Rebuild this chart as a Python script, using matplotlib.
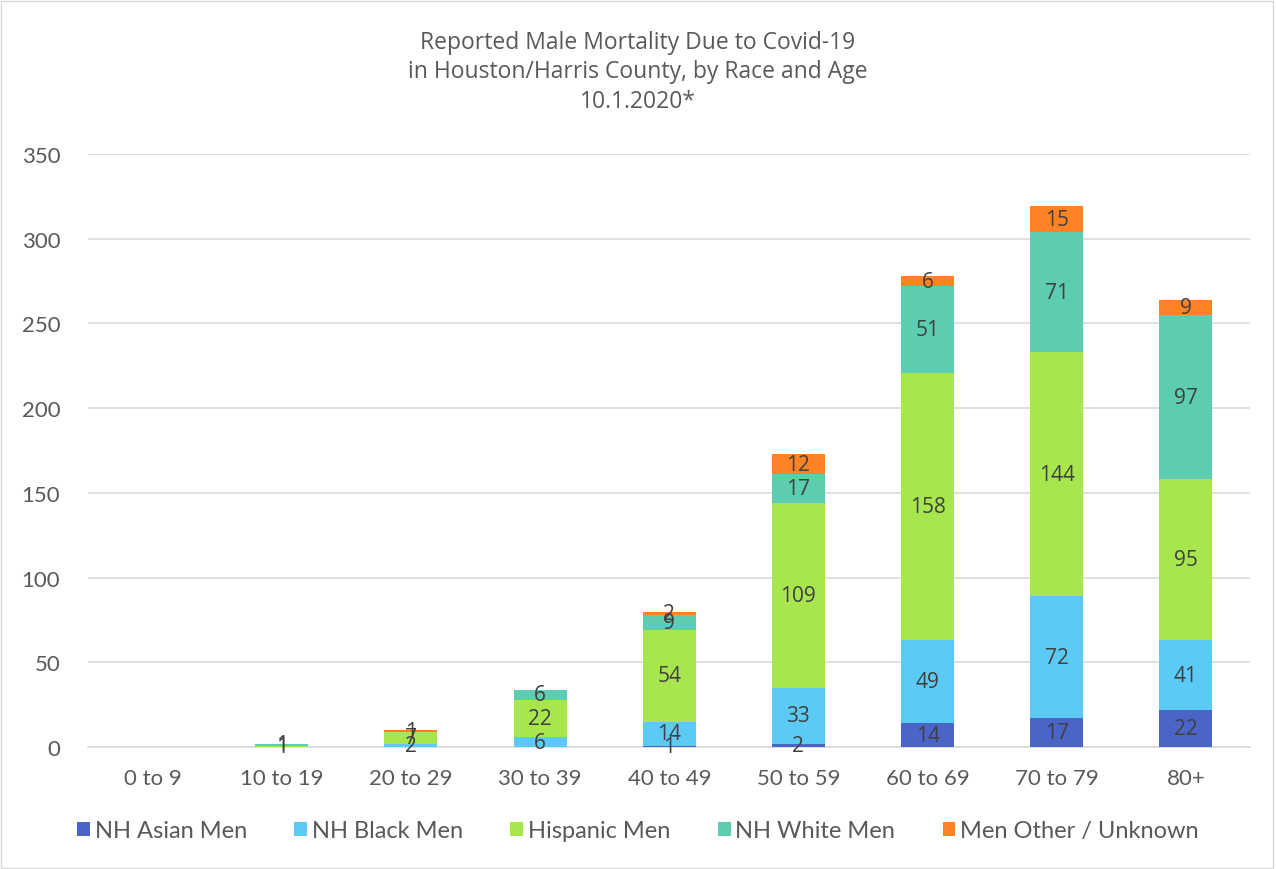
import matplotlib
matplotlib.use("Agg")
import matplotlib.pyplot as plt
import numpy as np

categories = ["0 to 9", "10 to 19", "20 to 29", "30 to 39", "40 to 49",
              "50 to 59", "60 to 69", "70 to 79", "80+"]
series_names = ["NH Asian Men", "NH Black Men", "Hispanic Men", "NH White Men", "Men Other / Unknown"]
asian = [0, 0, 0, 0, 1, 2, 14, 17, 22]
black = [0, 0, 2, 6, 14, 33, 49, 72, 41]
hispanic = [0, 1, 7, 22, 54, 109, 158, 144, 95]
white = [0, 1, 0, 6, 9, 17, 51, 71, 97]
other = [0, 0, 1, 0, 2, 12, 6, 15, 9]
colors = ["#4A64C8", "#5BCAF5", "#A8E64E", "#5CCDB0", "#FF8224"]
yticks = [0, 50, 100, 150, 200, 250, 300, 350]

plt.rcParams['font.family'] = ['Lato', 'DejaVu Sans']
fig = plt.figure(figsize=(12.76, 8.7), dpi=100)
ax = fig.add_axes([0.069, 0.140, 0.911, 0.682])

x = np.arange(len(categories))
bottom = np.zeros(len(categories))
handles = []
for name, vals, c in zip(series_names, [asian, black, hispanic, white, other], colors):
    vals = np.array(vals, dtype=float)
    h = ax.bar(x, vals, 0.41, bottom=bottom, color=c, label=name, zorder=3)
    handles.append(h)
    for xi, v, b in zip(x, vals, bottom):
        if v > 0:
            ax.text(xi, b + v / 2, f"{int(v)}", ha="center", va="center",
                    fontsize=15, color="#404040", family=["Open Sans", "DejaVu Sans"], zorder=4)
    bottom += vals

ax.set_ylim(0, 350)
ax.set_xlim(-0.5, len(categories) - 0.5)
ax.set_yticks(yticks)
ax.yaxis.grid(True, color="#D9D9D9", linewidth=1.2, zorder=0)
for s in ["top", "right", "left"]:
    ax.spines[s].set_visible(False)
ax.spines["bottom"].set_color("#D9D9D9")
ax.spines["bottom"].set_linewidth(1.2)
ax.set_xticks(x)
ax.set_xticklabels(categories)
ax.tick_params(axis="both", length=0, labelsize=16, labelcolor="#595959")
ax.tick_params(axis="y", pad=20)
ax.tick_params(axis="x", pad=15)

fig.text(0.5, 0.917, "Reported Male Mortality Due to Covid-19\nin Houston/Harris County, by Race and Age\n10.1.2020*",
         ha="center", va="center", fontsize=16.5, color="#595959", linespacing=1.3,
         family=["Open Sans", "DejaVu Sans"])

fig.legend(handles=handles, labels=series_names, loc="center", bbox_to_anchor=(0.5, 0.044),
           ncol=5, frameon=False, fontsize=17, handlelength=0.55, handleheight=0.55,
           handletextpad=0.2, columnspacing=2.0, labelcolor="#595959")

fig.patches.append(plt.Rectangle((0.001, 0.001), 0.997, 0.997, transform=fig.transFigure,
                                 fill=False, edgecolor="#D9D9D9", linewidth=1))
fig.savefig("out.png", dpi=100, facecolor="white")
